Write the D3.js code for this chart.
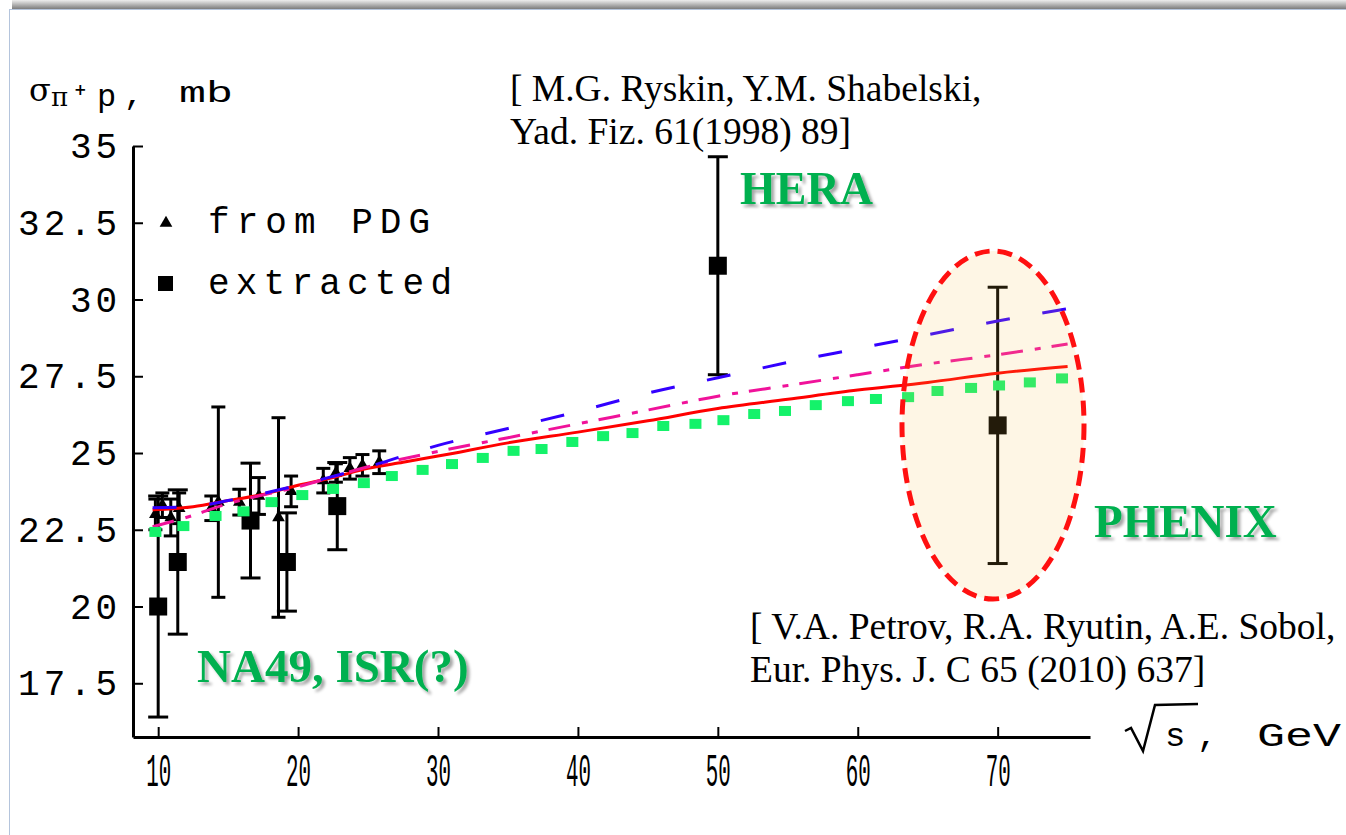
<!DOCTYPE html>
<html>
<head>
<meta charset="utf-8">
<script src="https://cdn.jsdelivr.net/npm/d3@7"></script>
<style>
body { margin: 0; background: #fff; }
svg { display: block; }
</style>
</head>
<body>
<svg id="chart" width="1346" height="835"></svg>
<script>
// extracted points (black squares)
var extS = [10, 11.4, 16.6, 19.2, 22.8, 50, 70];
var extSigma = [20.0, 21.45, 22.8, 21.45, 23.27, 31.1, 25.9];
var extErr = [3.6, 2.35, 1.87, 1.6, 1.42, 3.55, 4.5];

// from PDG (black triangles)
var pdgS = [9.8, 10.3, 10.9, 11.5, 13.8, 14.3, 15.8, 17.2, 18.6, 19.5, 21.8, 22.7, 23.7, 24.6, 25.8];
var pdgSigma = [23.0, 23.3, 22.9, 23.2, 23.2, 23.4, 23.4, 23.6, 22.9, 23.75, 24.1, 24.35, 24.5, 24.6, 24.7];
var pdgErr = [0.5, 0.4, 0.6, 0.5, 0.4, 3.1, 0.42, 0.6, 3.25, 0.5, 0.4, 0.3, 0.35, 0.35, 0.37];

// model curves
var blueS = [9.6, 12.5, 15, 20, 25, 30, 35, 40, 45, 50, 55, 60, 65, 70, 75];
var blueSigma = [23.22, 23.26, 23.45, 23.95, 24.55, 25.25, 25.8, 26.35, 26.95, 27.45, 27.95, 28.4, 28.85, 29.3, 29.7];

var pinkS = [9.6, 12, 15, 20, 25, 30, 35, 40, 45, 50, 55, 60, 65, 70, 75];
var pinkSigma = [22.6, 22.9, 23.35, 23.9, 24.55, 25.05, 25.5, 25.95, 26.4, 26.85, 27.2, 27.55, 27.9, 28.2, 28.55];

var redS = [9.6, 12.5, 15, 17.5, 20, 22.5, 25, 27.5, 30, 35, 40, 45, 50, 55, 60, 65, 70, 75];
var redSigma = [23.15, 23.25, 23.45, 23.65, 23.95, 24.2, 24.5, 24.7, 24.9, 25.33, 25.68, 26.05, 26.45, 26.75, 27.05, 27.3, 27.6, 27.82];

var greenS = [9.8, 11.8, 14.1, 16.1, 18.1, 20.3, 22.5, 24.7, 26.7, 28.9, 31.0, 33.2, 35.4, 37.4, 39.6, 41.8, 43.9, 46.1, 48.4, 50.4, 52.6, 54.8, 57.0, 59.3, 61.3, 63.6, 65.7, 68.1, 70.1, 72.3, 74.6];
var greenSigma = [22.43, 22.62, 22.95, 23.1, 23.4, 23.63, 23.83, 24.02, 24.25, 24.45, 24.64, 24.84, 25.07, 25.13, 25.36, 25.55, 25.65, 25.88, 25.95, 26.07, 26.27, 26.37, 26.56, 26.69, 26.76, 26.82, 27.02, 27.12, 27.2, 27.3, 27.43];

// ticks
var yTicks = [17.5, 20, 22.5, 25, 27.5, 30, 32.5, 35];
var yMinor = d3.range(16, 35.01, 0.5);
var xTicks = [10, 20, 30, 40, 50, 60, 70];
var xMinor = d3.range(10, 76.01, 2);

var svg = d3.select("#chart");

var x = d3.scaleLinear().domain([8.2, 76.6]).range([133, 1090]);
var y = d3.scaleLinear().domain([15.75, 35]).range([737, 146]);

var defs = svg.append("defs");
var grad = defs.append("linearGradient").attr("id", "topbar").attr("x1", 0).attr("y1", 0).attr("x2", 0).attr("y2", 1);
grad.append("stop").attr("offset", "0%").attr("stop-color", "#eeeeee");
grad.append("stop").attr("offset", "100%").attr("stop-color", "#7c7c7c");
var shadow = defs.append("filter").attr("id", "shadow").attr("x", "-10%").attr("y", "-20%").attr("width", "130%").attr("height", "150%");
shadow.append("feDropShadow").attr("dx", 3).attr("dy", 3).attr("stdDeviation", 1.6)
    .attr("flood-color", "#000").attr("flood-opacity", 0.35);

// slide frame
svg.append("rect").attr("x", 12).attr("y", 0).attr("width", 1334).attr("height", 9).attr("fill", "url(#topbar)");
svg.append("line").attr("x1", 9).attr("x2", 1346).attr("y1", 9.5).attr("y2", 9.5).attr("stroke", "#b4c4dc").attr("stroke-width", 1);
svg.append("line").attr("x1", 9.5).attr("x2", 9.5).attr("y1", 9).attr("y2", 835).attr("stroke", "#b4c4dc").attr("stroke-width", 1);

// axes
var gx = svg.append("g").attr("transform", "translate(0,737)");
gx.call(d3.axisBottom(x).tickValues(xMinor).tickSize(-6).tickSizeOuter(0).tickFormat(""));
gx.call(d3.axisBottom(x).tickValues(xTicks).tickSize(-10).tickSizeOuter(0).tickFormat(""));
var gy = svg.append("g").attr("transform", "translate(133,0)");
gy.call(d3.axisLeft(y).tickValues(yMinor).tickSize(-6).tickSizeOuter(0).tickFormat(""));
gy.call(d3.axisLeft(y).tickValues(yTicks).tickSize(-10).tickSizeOuter(0).tickFormat(""));
svg.selectAll(".domain").attr("stroke", "#000").attr("stroke-width", 3);
svg.selectAll(".tick line").attr("stroke", "#000").attr("stroke-width", 2);

var mono = "Liberation Mono";
svg.append("g").selectAll("text").data(yTicks).enter().append("text")
    .attr("x", function(d) { return 117 - (26 * String(d).length - 5); })
    .attr("y", function(d) { return y(d) + 12; })
    .attr("font-family", mono).attr("font-size", 36)
    .attr("textLength", function(d) { return 26 * String(d).length - 5; })
    .attr("lengthAdjust", "spacing")
    .text(function(d) { return String(d); });

svg.append("g").selectAll("text").data(xTicks).enter().append("text")
    .attr("x", function(d) { return x(d) - 12; })
    .attr("y", 786)
    .attr("font-family", mono).attr("font-size", 46)
    .attr("textLength", 25).attr("lengthAdjust", "spacingAndGlyphs")
    .text(function(d) { return String(d); });

// axis titles
var yt = svg.append("g");
yt.append("text").attr("x", 29).attr("y", 101).attr("font-family", "DejaVu Serif").attr("font-size", 32).text("σ");
yt.append("text").attr("x", 51).attr("y", 106).attr("font-family", "DejaVu Serif").attr("font-size", 26).text("π");
yt.append("text").attr("x", 74).attr("y", 95).attr("font-family", "DejaVu Sans").attr("font-size", 15).attr("font-weight", "bold").text("+");
yt.append("text").attr("x", 97).attr("y", 106).attr("font-family", mono).attr("font-size", 32).text("p");
yt.append("text").attr("x", 124).attr("y", 104).attr("font-family", mono).attr("font-size", 32).text(",");
yt.append("text").attr("x", 179).attr("y", 102).attr("font-family", mono).attr("font-size", 30)
    .attr("textLength", 54).attr("lengthAdjust", "spacingAndGlyphs").text("mb");

var xt = svg.append("g");
xt.append("path").attr("d", "M1125,731 L1131,728 L1143,751 L1155,705 L1198,704")
    .attr("fill", "none").attr("stroke", "#000").attr("stroke-width", 2.5);
xt.append("text").attr("x", 1165).attr("y", 746).attr("font-family", mono).attr("font-size", 34).text("s");
xt.append("text").attr("x", 1197).attr("y", 746).attr("font-family", mono).attr("font-size", 34).text(",");
xt.append("text").attr("x", 1257).attr("y", 746).attr("font-family", mono).attr("font-size", 34)
    .attr("textLength", 84).attr("lengthAdjust", "spacingAndGlyphs").text("GeV");

// legend
var lg = svg.append("g");
lg.append("path").attr("d", d3.symbol(d3.symbolTriangle, 70)).attr("transform", "translate(166,223)").attr("fill", "#000");
lg.append("rect").attr("x", 158).attr("y", 276).attr("width", 15).attr("height", 15).attr("fill", "#000");
lg.append("text").attr("x", 208).attr("y", 233).attr("font-family", mono).attr("font-size", 36)
    .attr("textLength", 222).attr("lengthAdjust", "spacing").text("from PDG");
lg.append("text").attr("x", 208).attr("y", 294).attr("font-family", mono).attr("font-size", 36)
    .attr("textLength", 244).attr("lengthAdjust", "spacing").text("extracted");

// PDG points
var pdg = pdgS.map(function(s, i) { return {s: s, v: pdgSigma[i], e: pdgErr[i]}; });
var gp = svg.append("g");
gp.selectAll("line.bar").data(pdg).enter().append("line").attr("class", "bar")
    .attr("x1", function(d) { return x(d.s); }).attr("x2", function(d) { return x(d.s); })
    .attr("y1", function(d) { return y(d.v + d.e); }).attr("y2", function(d) { return y(d.v - d.e); })
    .attr("stroke", "#000").attr("stroke-width", 3);
gp.selectAll("line.capt").data(pdg).enter().append("line").attr("class", "capt")
    .attr("x1", function(d) { return x(d.s) - 7; }).attr("x2", function(d) { return x(d.s) + 7; })
    .attr("y1", function(d) { return y(d.v + d.e); }).attr("y2", function(d) { return y(d.v + d.e); })
    .attr("stroke", "#000").attr("stroke-width", 3);
gp.selectAll("line.capb").data(pdg).enter().append("line").attr("class", "capb")
    .attr("x1", function(d) { return x(d.s) - 7; }).attr("x2", function(d) { return x(d.s) + 7; })
    .attr("y1", function(d) { return y(d.v - d.e); }).attr("y2", function(d) { return y(d.v - d.e); })
    .attr("stroke", "#000").attr("stroke-width", 3);
gp.selectAll("path").data(pdg).enter().append("path")
    .attr("d", d3.symbol(d3.symbolTriangle, 70))
    .attr("transform", function(d) { return "translate(" + x(d.s) + "," + y(d.v) + ")"; })
    .attr("fill", "#000");

// extracted points
var ext = extS.map(function(s, i) { return {s: s, v: extSigma[i], e: extErr[i]}; });
var ge = svg.append("g");
ge.selectAll("line.bar").data(ext).enter().append("line").attr("class", "bar")
    .attr("x1", function(d) { return x(d.s); }).attr("x2", function(d) { return x(d.s); })
    .attr("y1", function(d) { return y(d.v + d.e); }).attr("y2", function(d) { return y(d.v - d.e); })
    .attr("stroke", "#000").attr("stroke-width", 3);
ge.selectAll("line.capt").data(ext).enter().append("line").attr("class", "capt")
    .attr("x1", function(d) { return x(d.s) - 10; }).attr("x2", function(d) { return x(d.s) + 10; })
    .attr("y1", function(d) { return y(d.v + d.e); }).attr("y2", function(d) { return y(d.v + d.e); })
    .attr("stroke", "#000").attr("stroke-width", 3);
ge.selectAll("line.capb").data(ext).enter().append("line").attr("class", "capb")
    .attr("x1", function(d) { return x(d.s) - 10; }).attr("x2", function(d) { return x(d.s) + 10; })
    .attr("y1", function(d) { return y(d.v - d.e); }).attr("y2", function(d) { return y(d.v - d.e); })
    .attr("stroke", "#000").attr("stroke-width", 3);
ge.selectAll("rect").data(ext).enter().append("rect")
    .attr("x", function(d) { return x(d.s) - 9; }).attr("y", function(d) { return y(d.v) - 9; })
    .attr("width", 18).attr("height", 18).attr("fill", "#000");

// curves
var line = d3.line().x(function(d) { return x(d[0]); }).y(function(d) { return y(d[1]); }).curve(d3.curveMonotoneX);
function pairs(a, b) { return a.map(function(s, i) { return [s, b[i]]; }); }

svg.append("path").datum(pairs(redS, redSigma)).attr("d", line)
    .attr("fill", "none").attr("stroke", "#ff0000").attr("stroke-width", 3);
svg.append("path").datum(pairs(pinkS, pinkSigma)).attr("d", line)
    .attr("fill", "none").attr("stroke", "#f0129a").attr("stroke-width", 3).attr("stroke-dasharray", "22 12 6 11");
svg.append("path").datum(pairs(blueS, blueSigma)).attr("d", line)
    .attr("fill", "none").attr("stroke", "#3300ff").attr("stroke-width", 3).attr("stroke-dasharray", "24 33");
svg.append("g").selectAll("rect").data(pairs(greenS, greenSigma)).enter().append("rect")
    .attr("x", function(d) { return x(d[0]) - 6; }).attr("y", function(d) { return y(d[1]) - 5; })
    .attr("width", 12).attr("height", 10).attr("fill", "#14f26a");

// PHENIX ellipse
svg.append("ellipse").attr("cx", 993).attr("cy", 425).attr("rx", 91).attr("ry", 174)
    .attr("fill", "#f5c04a").attr("fill-opacity", 0.14)
    .attr("stroke", "#ff1010").attr("stroke-width", 5).attr("stroke-dasharray", "15 8");

// annotations
var serif = "Liberation Serif";
svg.append("text").attr("x", 510).attr("y", 101).attr("font-family", serif).attr("font-size", 37.5).text("[ M.G. Ryskin, Y.M. Shabelski,");
svg.append("text").attr("x", 510).attr("y", 144).attr("font-family", serif).attr("font-size", 37.5).text("Yad. Fiz. 61(1998) 89]");
svg.append("text").attr("x", 750).attr("y", 639).attr("font-family", serif).attr("font-size", 37.5).text("[ V.A. Petrov, R.A. Ryutin, A.E. Sobol,");
svg.append("text").attr("x", 750).attr("y", 682).attr("font-family", serif).attr("font-size", 37.5).text("Eur. Phys. J. C 65 (2010) 637]");

var green = "#00b050";
svg.append("text").attr("x", 740).attr("y", 204).attr("font-family", serif).attr("font-weight", "bold")
    .attr("font-size", 46).attr("fill", green).attr("filter", "url(#shadow)").text("HERA");
svg.append("text").attr("x", 1094).attr("y", 537).attr("font-family", serif).attr("font-weight", "bold")
    .attr("font-size", 47).attr("fill", green).attr("filter", "url(#shadow)").text("PHENIX");
svg.append("text").attr("x", 197).attr("y", 682).attr("font-family", serif).attr("font-weight", "bold")
    .attr("font-size", 47).attr("fill", green).attr("filter", "url(#shadow)").text("NA49, ISR(?)");
</script>
</body>
</html>
